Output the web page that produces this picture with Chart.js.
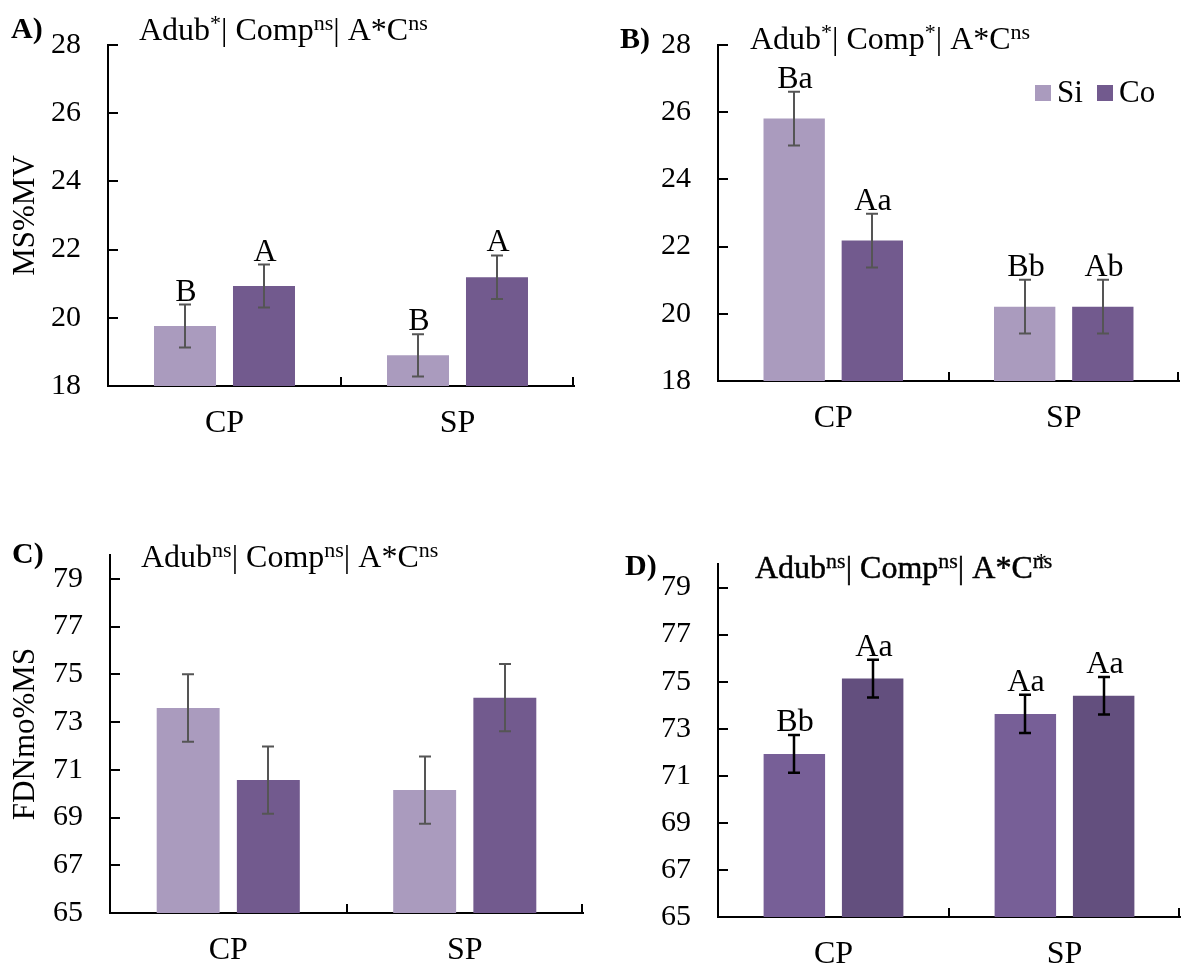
<!DOCTYPE html>
<html><head><meta charset="utf-8">
<script src="https://cdn.jsdelivr.net/npm/chart.js@4/dist/chart.umd.min.js"></script>
<style>
html,body{margin:0;padding:0;background:#fff;}
#wrap{position:relative;width:1184px;height:966px;overflow:hidden;}
.p{position:absolute;width:592px;height:483px;}
</style></head><body>
<div id="wrap">
<div class="p" style="left:0;top:0"><canvas id="cA" width="592" height="483"></canvas></div>
<div class="p" style="left:592px;top:0"><canvas id="cB" width="592" height="483"></canvas></div>
<div class="p" style="left:0;top:483px"><canvas id="cC" width="592" height="483"></canvas></div>
<div class="p" style="left:592px;top:483px"><canvas id="cD" width="592" height="483"></canvas></div>
</div>
<script>
// ---------- data ----------
const categories = ['CP', 'SP'];
const seriesNames = ['Si', 'Co'];

const ticksMS = [18, 20, 22, 24, 26, 28];
const ticksFDN = [65, 67, 69, 71, 73, 75, 77, 79];

// Panel A (MS%MV)
const aSi = [19.76, 18.90];
const aCo = [20.93, 21.19];
const aSiErr = [0.63, 0.62];
const aCoErr = [0.63, 0.64];
const aSiLetters = ['B', 'B'];
const aCoLetters = ['A', 'A'];

// Panel B (MS%MV)
const bSi = [25.81, 20.21];
const bCo = [22.18, 20.21];
const bSiErr = [0.80, 0.80];
const bCoErr = [0.80, 0.80];
const bSiLetters = ['Ba', 'Bb'];
const bCoLetters = ['Aa', 'Ab'];

// Panel C (FDNmo%MS)
const cSi = [73.59, 70.15];
const cCo = [70.57, 74.02];
const cSiErr = [1.41, 1.41];
const cCoErr = [1.41, 1.41];

// Panel D (FDNmo%MS)
const dSi = [71.93, 73.63];
const dCo = [75.13, 74.40];
const dSiErr = [0.80, 0.81];
const dCoErr = [0.80, 0.80];
const dSiLetters = ['Bb', 'Aa'];
const dCoLetters = ['Aa', 'Aa'];

// ---------- drawing ----------
const FONT = "'Liberation Serif','Times New Roman',serif";
const W = 592, H = 483;

function drawRich(ctx, x, y, segs, size, supSize, rise) {
  let cx = x;
  ctx.textAlign = 'left';
  ctx.textBaseline = 'alphabetic';
  segs.forEach(s => {
    const sz = s.sup ? supSize : size;
    ctx.font = sz + 'px ' + FONT;
    const yy = s.sup ? y - rise : y;
    ctx.fillText(s.t, cx + (s.dx || 0), yy);
    if (s.stroke) { ctx.lineWidth = s.stroke; ctx.strokeText(s.t, cx + (s.dx || 0), yy); }
    if (!s.noAdvance) cx += ctx.measureText(s.t).width;
  });
}

function panelPlugin(p) {
  return {
    id: 'deco' + p.name,
    afterDatasetsDraw(chart) {
      const ctx = chart.ctx, ys = chart.scales.y, ca = chart.chartArea;
      ctx.save();
      ctx.strokeStyle = '#000';
      ctx.lineWidth = 2;
      ctx.lineCap = 'butt';
      // inward y ticks
      p.ticks.forEach(v => {
        if (v === p.min) return;
        const py = Math.round(ys.getPixelForValue(v));
        ctx.beginPath(); ctx.moveTo(ca.left, py); ctx.lineTo(ca.left + 10, py); ctx.stroke();
      });
      // upward x ticks at category boundaries
      const n = categories.length, cw = (ca.right - ca.left) / n;
      for (let k = 1; k <= n; k++) {
        const px = Math.round(ca.left + k * cw) - (k === n ? 1 : 0);
        ctx.beginPath(); ctx.moveTo(px, ca.bottom); ctx.lineTo(px, ca.bottom - 9); ctx.stroke();
      }
      // error bars + letters
      chart.data.datasets.forEach((ds, di) => {
        const meta = chart.getDatasetMeta(di);
        meta.data.forEach((bar, i) => {
          const v = ds.data[i], e = ds.err[i];
          const top = ys.getPixelForValue(v + e), bot = ys.getPixelForValue(v - e);
          const bx = Math.round(bar.x);
          ctx.strokeStyle = p.errColor;
          ctx.lineWidth = p.errWidth;
          ctx.beginPath();
          ctx.moveTo(bx, top); ctx.lineTo(bx, bot);
          ctx.moveTo(bx - 6, top); ctx.lineTo(bx + 6, top);
          ctx.moveTo(bx - 6, bot); ctx.lineTo(bx + 6, bot);
          ctx.stroke();
          if (ds.letters) {
            ctx.fillStyle = '#000';
            ctx.font = '32px ' + FONT;
            ctx.textAlign = 'center';
            ctx.textBaseline = 'alphabetic';
            ctx.fillText(ds.letters[i], bx + 1, top - 4);
          }
        });
      });
      // panel label
      ctx.fillStyle = '#000';
      ctx.font = 'bold 30px ' + FONT;
      ctx.textAlign = 'left';
      ctx.textBaseline = 'alphabetic';
      ctx.fillText(p.tag, p.tagPos[0], p.tagPos[1]);
      // annotation
      ctx.strokeStyle = '#000';
      drawRich(ctx, p.notePos[0], p.notePos[1], p.note, 32, 22, 10);
      // legend
      if (p.legend) {
        const L = p.legend;
        chart.data.datasets.forEach((ds, di) => {
          const lx = L.x[di];
          ctx.fillStyle = ds.backgroundColor;
          ctx.fillRect(lx, L.y - 8, 16, 16);
          ctx.fillStyle = '#000';
          ctx.font = '31px ' + FONT;
          ctx.textAlign = 'left';
          ctx.textBaseline = 'middle';
          ctx.fillText(ds.label, lx + 22, L.y + 1);
        });
      }
      ctx.restore();
    }
  };
}

function makePanel(id, p) {
  new Chart(document.getElementById(id), {
    type: 'bar',
    data: {
      labels: categories,
      datasets: [
        { label: seriesNames[0], data: p.si, backgroundColor: p.colors[0], err: p.siErr, letters: p.siLetters },
        { label: seriesNames[1], data: p.co, backgroundColor: p.colors[1], err: p.coErr, letters: p.coLetters }
      ]
    },
    options: {
      responsive: false, animation: false, devicePixelRatio: 1,
      layout: { padding: { top: p.area.top, right: W - p.area.right, bottom: 0, left: 0 } },
      datasets: { bar: { categoryPercentage: 0.678, barPercentage: 0.785 } },
      plugins: { legend: { display: false }, tooltip: { enabled: false }, title: { display: false } },
      scales: {
        x: {
          grid: { display: false, drawTicks: false },
          border: { color: '#000', width: 2 },
          ticks: { color: '#000', font: { family: FONT, size: 32 }, padding: 18 },
          afterFit: s => { s.height = H - p.area.bottom; }
        },
        y: {
          min: p.min, max: p.max,
          grid: { display: false, drawTicks: false },
          border: { color: '#000', width: 2 },
          ticks: { color: '#000', font: { family: FONT, size: 30 }, padding: 27 },
          afterBuildTicks: s => { s.ticks = p.ticks.map(v => ({ value: v })); },
          afterFit: s => { s.width = p.area.left; },
          title: { display: !!p.yTitle, text: p.yTitle || '', color: '#000', font: { family: FONT, size: 31 }, padding: { top: 7, bottom: 0 } }
        }
      }
    },
    plugins: [panelPlugin(p)]
  });
}

const lightCols = ['#aa9bbe', '#725a8e'];
const darkCols = ['#775f97', '#634f7e'];

makePanel('cA', {
  name: 'A', si: aSi, co: aCo, siErr: aSiErr, coErr: aCoErr, siLetters: aSiLetters, coLetters: aCoLetters,
  colors: lightCols, errColor: '#555555', errWidth: 2,
  min: 18, max: 28, ticks: ticksMS, yTitle: 'MS%MV',
  area: { left: 108, top: 26, right: 574, bottom: 386 },
  tag: 'A)', tagPos: [11, 38],
  note: [{ t: 'Adub' }, { t: '*', sup: true }, { t: '| Comp' }, { t: 'ns', sup: true }, { t: '| A*C' }, { t: 'ns', sup: true }],
  notePos: [139, 40]
});

makePanel('cB', {
  name: 'B', si: bSi, co: bCo, siErr: bSiErr, coErr: bCoErr, siLetters: bSiLetters, coLetters: bCoLetters,
  colors: lightCols, errColor: '#555555', errWidth: 2,
  min: 18, max: 28, ticks: ticksMS, yTitle: '',
  area: { left: 126, top: 27, right: 587, bottom: 381 },
  tag: 'B)', tagPos: [28, 48],
  note: [{ t: 'Adub' }, { t: '*', sup: true }, { t: '| Comp' }, { t: '*', sup: true }, { t: '| A*C' }, { t: 'ns', sup: true }],
  notePos: [158, 49],
  legend: { x: [443, 505], y: 93 }
});

makePanel('cC', {
  name: 'C', si: cSi, co: cCo, siErr: cSiErr, coErr: cCoErr, siLetters: null, coLetters: null,
  colors: lightCols, errColor: '#555555', errWidth: 2,
  min: 65, max: 80, ticks: ticksFDN, yTitle: 'FDNmo%MS',
  area: { left: 110, top: 72, right: 583, bottom: 430 },
  tag: 'C)', tagPos: [12, 80],
  note: [{ t: 'Adub' }, { t: 'ns', sup: true }, { t: '| Comp' }, { t: 'ns', sup: true }, { t: '| A*C' }, { t: 'ns', sup: true }],
  notePos: [141, 84]
});

makePanel('cD', {
  name: 'D', si: dSi, co: dCo, siErr: dSiErr, coErr: dCoErr, siLetters: dSiLetters, coLetters: dCoLetters,
  colors: darkCols, errColor: '#000000', errWidth: 2.5,
  min: 65, max: 80, ticks: ticksFDN, yTitle: '',
  area: { left: 126, top: 81, right: 588, bottom: 434 },
  tag: 'D)', tagPos: [33, 92],
  note: [{ t: 'Adub', stroke: 0.5 }, { t: 'ns', sup: true, stroke: 0.3 }, { t: '| Comp', stroke: 0.5 }, { t: 'ns', sup: true, stroke: 0.3 }, { t: '| A*C', stroke: 0.5 }, { t: '*', sup: true, noAdvance: true, dx: 3 }, { t: 'ns', sup: true, stroke: 0.3 }],
  notePos: [163, 95]
});
</script>
</body></html>
